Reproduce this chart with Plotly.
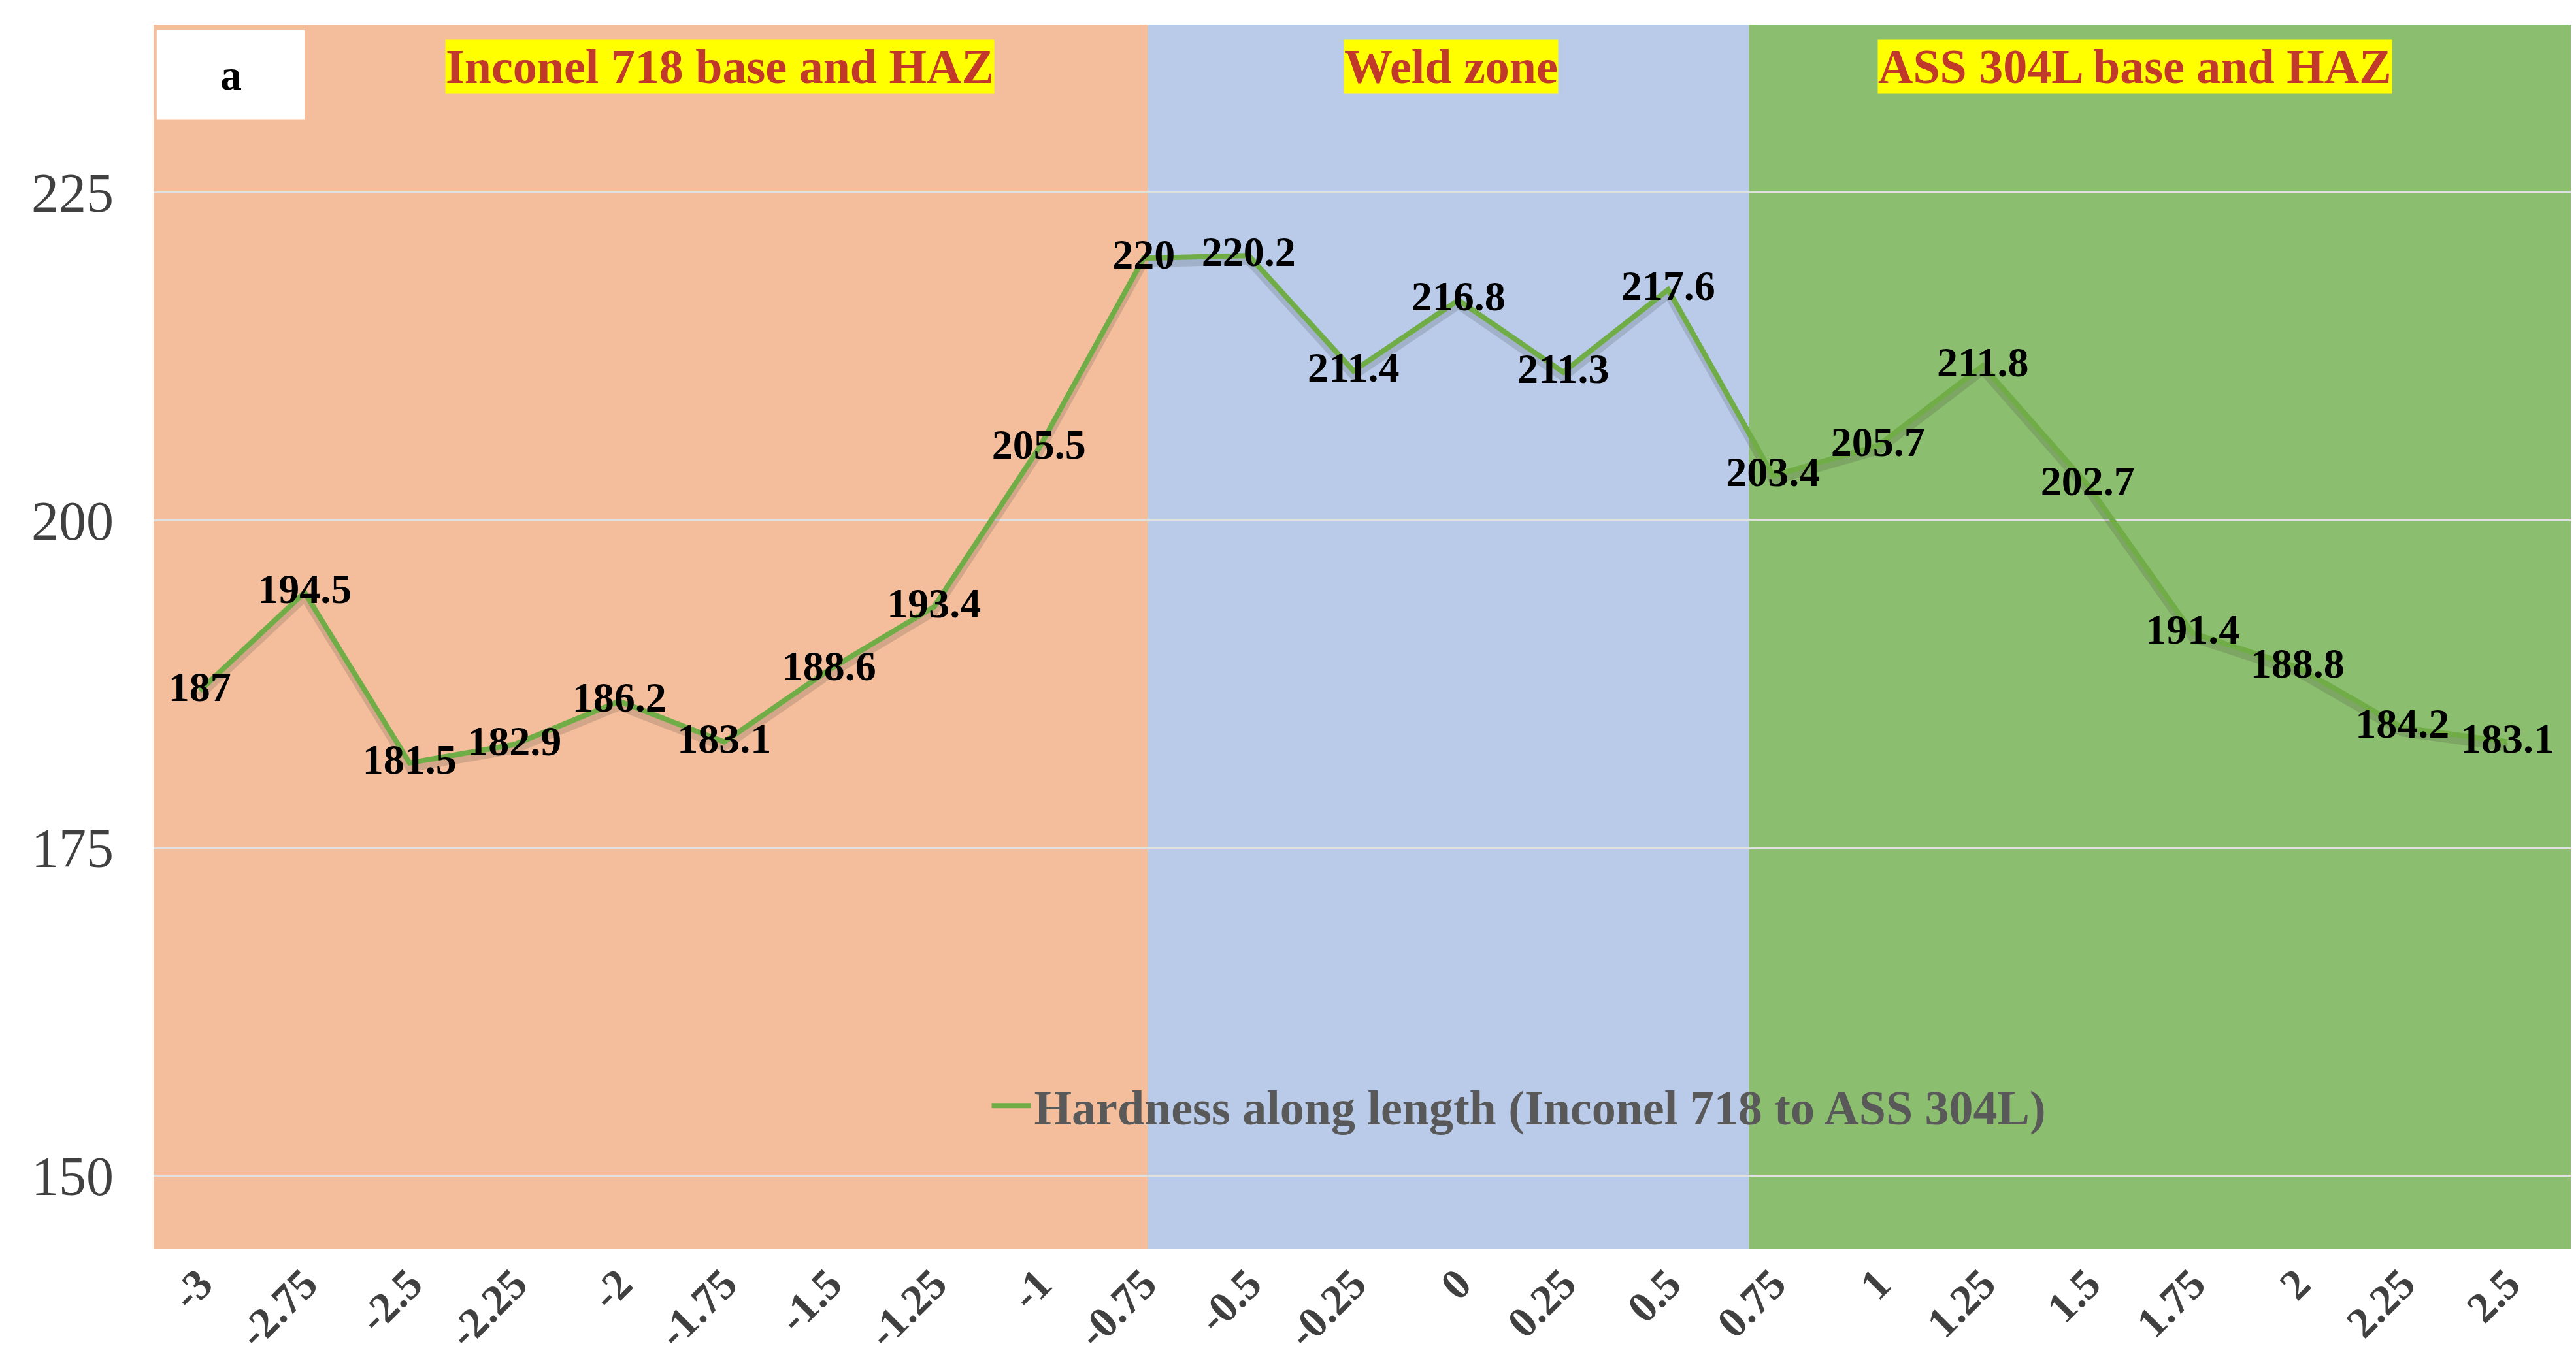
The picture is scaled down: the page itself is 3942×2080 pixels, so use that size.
import plotly.graph_objects as go

positions = ["-3","-2.75","-2.5","-2.25","-2","-1.75","-1.5","-1.25","-1","-0.75","-0.5","-0.25","0","0.25","0.5","0.75","1","1.25","1.5","1.75","2","2.25","2.5"]
hardness = [187,194.5,181.5,182.9,186.2,183.1,188.6,193.4,205.5,220,220.2,211.4,216.8,211.3,217.6,203.4,205.7,211.8,202.7,191.4,188.8,184.2,183.1]
zone_labels = ["Inconel 718 base and HAZ","Weld zone","ASS 304L base and HAZ"]
y_ticks = [150,175,200,225]

idx = list(range(len(positions)))
font = "Liberation Serif"
fig = go.Figure()
fig.add_trace(go.Scatter(x=idx, y=[v-0.4 for v in hardness], mode="lines",
    line=dict(color="rgba(60,60,60,0.18)", width=12), showlegend=False, hoverinfo="skip"))
fig.add_trace(go.Scatter(x=idx, y=hardness, mode="lines+text", name="Hardness along length (Inconel 718 to ASS 304L)",
    line=dict(color="#70AD47", width=8),
    text=[f"{v:g}" for v in hardness], textposition="middle center",
    textfont=dict(family=font, size=64, color="black", weight="bold")))

zones = [(-0.44, 9.04, "#F4BE9C"), (9.04, 14.77, "#B9CBE9"), (14.77, 22.63, "#8BBE6E")]
for x0, x1, c in zones:
    fig.add_shape(type="rect", xref="x", yref="paper", x0=x0, x1=x1, y0=0, y1=1,
                  fillcolor=c, line_width=0, layer="below")
fig.add_shape(type="rect", xref="x", yref="y", x0=-0.41, x1=1.0, y0=230.6, y1=237.4,
              fillcolor="white", line_width=0)
fig.add_annotation(x=0.3, y=234.0, xref="x", yref="y", text="<b>a</b>", showarrow=False,
                   font=dict(family=font, size=66, color="black"))
for xc, lab in zip([4.96, 11.93, 18.45], zone_labels):
    fig.add_annotation(x=xc, y=234.6, xref="x", yref="y", text=f"<b>{lab}</b>", showarrow=False,
                       bgcolor="#FFFF00", borderpad=0,
                       font=dict(family=font, size=74, color="#C0392B"))

fig.update_layout(
    width=3942, height=2080, margin=dict(l=227, r=12, t=30, b=89),
    plot_bgcolor="white", paper_bgcolor="white",
    xaxis=dict(range=[-0.44, 22.63], tickvals=idx, ticktext=positions, tickangle=-45,
               showgrid=False, zeroline=False,
               tickfont=dict(family=font, size=66, color="#404040", weight="bold")),
    yaxis=dict(range=[144.4, 237.8], tickvals=y_ticks, showgrid=True, gridcolor="#E0E0E0",
               gridwidth=3, zeroline=False, layer="above traces", ticklabelstandoff=60,
               tickfont=dict(family=font, size=84, color="#404040")),
    legend=dict(x=0.345, y=0.117, xanchor="left", yanchor="middle", bgcolor="rgba(0,0,0,0)",
                font=dict(family=font, size=74, color="#595959", weight="bold"), itemwidth=60),
)
fig.write_html("out.html")
